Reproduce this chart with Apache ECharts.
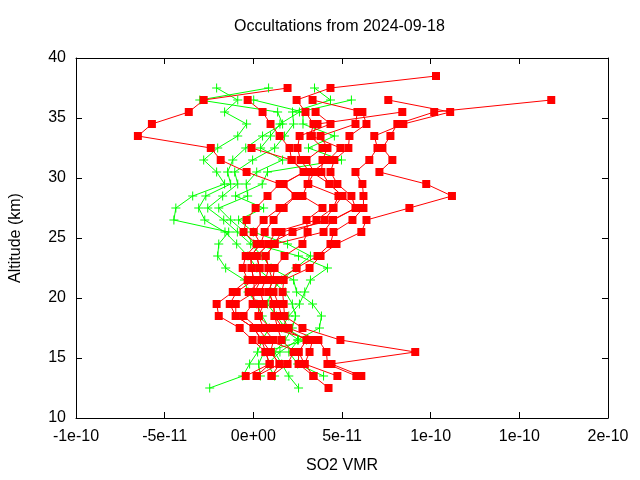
<!DOCTYPE html>
<html><head><meta charset="utf-8">
<script src="https://cdn.jsdelivr.net/npm/echarts@6/dist/echarts.min.js"></script>
<style>html,body{margin:0;padding:0;background:#fff}#c{width:640px;height:480px}</style>
</head><body><div id="c"></div>
<script>
// Altitude levels (km), top to bottom
const altitudes = [38.5,37.5,36.5,35.5,34.5,33.5,32.5,31.5,30.5,29.5,28.5,27.5,26.5,25.5,24.5,23.5,22.5,21.5,20.5,19.5,18.5,17.5,16.5,15.5,14.5,13.5,12.5];
// SO2 VMR values in units of 1e-11, aligned with altitudes
const redA = [10.3,4.35,2.44,2.94,3.39,3.22,3.90,3.00,3.45,3.06,2.77,3.90,3.00,3.06,2.77,1.76,1.20,1.09,0.86,1.14,1.20,1.37,1.59,2.27,1.93,1.03,null];
const redB = [null,1.93,-2.80,-3.64,-5.72,-6.51,-2.40,-1.84,-0.38,1.48,0.80,0.13,-0.38,-0.55,0.19,-0.43,-0.60,-0.32,-1.16,-2.07,-1.95,-0.77,-0.04,0.69,0.92,-0.43,null];
const redC = [null,null,16.8,10.2,8.12,7.73,7.28,7.84,7.11,9.75,11.2,8.80,6.38,6.09,4.69,3.79,3.17,1.71,1.65,1.71,1.76,2.77,4.91,9.13,4.41,6.09,null];
const redD = [null,null,7.61,11.1,8.46,6.82,7.00,6.54,5.76,6.15,6.21,6.21,5.59,4.52,4.35,3.62,2.44,1.37,1.14,1.42,1.59,1.99,3.67,4.12,4.18,5.81,null];
const redE = [null,null,3.34,6.15,6.38,5.42,5.36,4.57,4.35,4.74,5.53,5.76,4.46,3.96,1.20,0.69,0.86,0.69,0.41,0.58,0.30,0.97,3.34,3.17,2.89,4.74,null];
const redF = [null,null,-0.32,0.52,0.97,1.48,2.04,2.16,2.83,1.71,2.38,1.48,0.58,0.02,0.41,-0.15,-0.10,0.02,-0.94,-1.33,-0.99,0.02,0.47,0.97,1.48,0.19,null];
const redG = [null,null,null,5.87,5.76,3.79,4.18,3.90,3.84,4.29,5.03,4.52,4.01,2.21,0.86,0.19,0.35,0.41,0.07,-0.04,-0.55,0.24,0.80,2.55,2.55,3.39,4.24];
const redH = [null,null,null,3.51,4.35,2.61,2.49,2.66,3.17,3.10,4.80,4.50,3.56,1.25,0.86,0.19,0.35,0.41,-0.26,0.30,0.30,0.58,1.14,0.97,1.48,1.03,null];
const redI = [null,null,null,8.40,3.62,3.30,4.91,4.24,3.30,4.30,5.00,5.80,4.50,1.59,1.20,0.69,0.86,1.09,0.86,1.14,1.20,1.65,3.00,2.55,2.89,3.39,null];
const redJ = [null,null,null,null,null,null,-0.10,2.16,2.90,1.60,2.40,1.71,1.14,0.64,0.41,-0.15,-0.10,0.02,0.07,-0.99,-0.99,0.02,0.47,0.69,0.92,0.19,null];
const greenK1 = [null,-2.07,-0.88,-1.62,-0.38,-0.88,-2.01,-2.80,-2.07,-1.62,-3.42,-4.37,-4.48,-1.39,-1.95,-2.01,-1.56,-0.50,-0.30,0.20,0.50,0.90,0.50,0.24,-0.21,-0.60,-2.46];
const greenK2 = [null,0.86,-3.02,1.37,1.65,0.52,-0.43,-1.16,-1.45,-1.28,-2.68,-3.08,-2.74,-1.60,-0.94,-0.30,0.20,1.00,1.80,2.20,2.38,2.20,1.80,1.20,1.60,2.00,2.55];
const greenK3 = [null,3.45,4.35,2.21,2.27,1.76,1.20,-0.04,-1.05,-0.88,-1.73,-2.57,-1.67,-0.90,-0.15,0.50,1.00,2.27,2.44,3.34,3.84,3.73,2.49,1.50,0.80,1.20,null];
const greenK4 = [null,null,5.53,2.60,1.50,0.97,0.41,1.65,0.19,-0.40,-0.32,-1.95,-1.28,-0.50,0.02,2.55,4.18,3.22,2.90,2.60,2.00,1.60,2.55,2.00,2.50,3.96,null];
const greenK5 = [null,null,0.02,2.80,2.80,4.57,3.11,4.97,0.80,0.50,-1.00,0.58,-0.83,0.00,1.93,3.22,2.40,1.60,1.00,0.80,1.30,1.80,3.00,0.60,0.30,0.40,null];
const redProfiles = [redA,redB,redC,redD,redE,redF,redG,redH,redI,redJ];
const greenProfiles = [greenK1,greenK2,greenK3,greenK4,greenK5];
const xTicks = [-10,-5,0,5,10,15,20];
const xTickLabels = ['-1e-10','-5e-11','0e+00','5e-11','1e-10','1e-10','2e-10'];
const yTicks = [10,15,20,25,30,35,40];

function toData(p){ const out=[]; p.forEach((v,i)=>{ if(v!==null) out.push([v, altitudes[i]]); }); return out; }
const plusPath = 'path://M4,0H5V9H4ZM0,4H9V5H0Z';
const series = [];
greenProfiles.forEach(p=>series.push({type:'line',data:toData(p),symbol:plusPath,symbolSize:9,showSymbol:true,
  lineStyle:{color:'#00ff00',width:1},itemStyle:{color:'#00ff00'},animation:false,silent:true}));
redProfiles.forEach(p=>series.push({type:'line',data:toData(p),symbol:'rect',symbolSize:8,showSymbol:true,
  lineStyle:{color:'#ff0000',width:1},itemStyle:{color:'#ff0000'},animation:false,silent:true}));

const font = 'Liberation Sans, Arial, sans-serif';
const chart = echarts.init(document.getElementById('c'),null,{renderer:'canvas'});
const axisBase = {axisLine:{show:true,onZero:false,lineStyle:{color:'#000',width:1}},splitLine:{show:false},
  axisTick:{show:true,inside:true,length:6,lineStyle:{color:'#000'}}};
chart.setOption({
  backgroundColor:'#fff',
  animation:false,
  title:{text:'Occultations from 2024-09-18',left:234,top:19,padding:0,
    textStyle:{fontFamily:font,fontSize:16,fontWeight:'normal',color:'#000'}},
  grid:{left:75,right:32,top:58,bottom:62},
  xAxis:[
    Object.assign({type:'value',min:-10,max:20,interval:5,position:'bottom',name:'SO2 VMR',nameLocation:'middle',nameGap:40,
      nameTextStyle:{fontFamily:font,fontSize:16,color:'#000'},
      axisLabel:{fontFamily:font,fontSize:16,color:'#000',margin:11,formatter:v=>xTickLabels[xTicks.indexOf(v)]}},axisBase),
    Object.assign({type:'value',min:-10,max:20,interval:5,position:'top',axisLabel:{show:false}},axisBase)
  ],
  yAxis:[
    Object.assign({type:'value',min:10,max:40,interval:5,position:'left',name:'Altitude (km)',nameLocation:'middle',nameGap:52,nameRotate:90,
      nameTextStyle:{fontFamily:font,fontSize:16,color:'#000'},
      axisLabel:{fontFamily:font,fontSize:16,color:'#000',margin:10,formatter:v=>String(v)}},axisBase),
    Object.assign({type:'value',min:10,max:40,interval:5,position:'right',axisLabel:{show:false}},axisBase)
  ],
  series:series
});
</script></body></html>
